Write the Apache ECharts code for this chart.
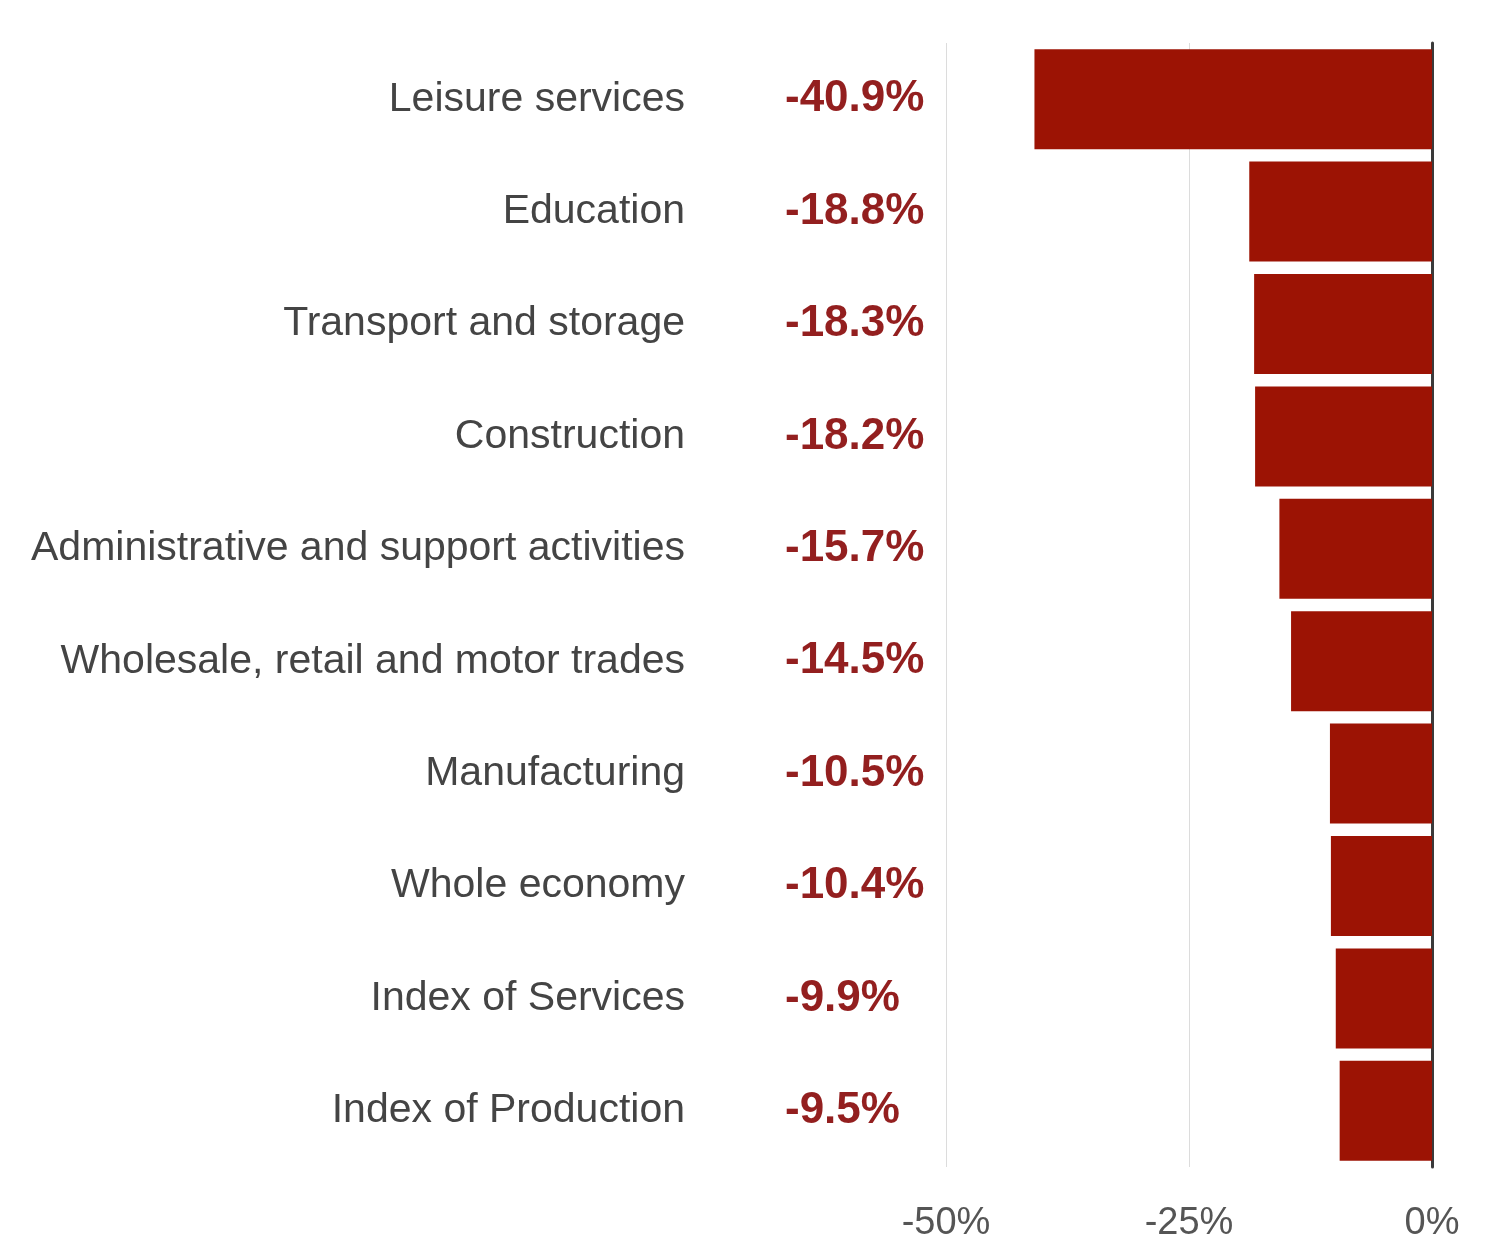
<!DOCTYPE html>
<html>
<head>
<meta charset="utf-8">
<script src="https://cdn.jsdelivr.net/npm/echarts@6/dist/echarts.min.js"></script>
<style>
  html, body { margin: 0; padding: 0; background: #ffffff; }
  #chart { width: 1487px; height: 1253px; }
</style>
</head>
<body>
<div id="chart"></div>
<script>
// Monthly change in output by industry, largest falls first
const industries = [
  'Leisure services',
  'Education',
  'Transport and storage',
  'Construction',
  'Administrative and support activities',
  'Wholesale, retail and motor trades',
  'Manufacturing',
  'Whole economy',
  'Index of Services',
  'Index of Production'
];
const changePct = [-40.9, -18.8, -18.3, -18.2, -15.7, -14.5, -10.5, -10.4, -9.9, -9.5];
const tickValues = [-50, -25, 0];

const barColor = '#9c1304';
const labelFont = '"Liberation Sans", Arial, sans-serif';

const chart = echarts.init(document.getElementById('chart'), null, { renderer: 'canvas' });

chart.setOption({
  backgroundColor: '#ffffff',
  animation: false,
  grid: { left: 946, right: 55, top: 43, bottom: 86, containLabel: false },
  xAxis: {
    type: 'value',
    min: tickValues[0],
    max: tickValues[tickValues.length - 1],
    interval: tickValues[1] - tickValues[0],
    axisLine: { show: false },
    axisTick: { show: false },
    splitLine: { show: true, lineStyle: { color: '#dcdcdc', width: 1 } },
    axisLabel: {
      margin: 38,
      color: '#555555',
      fontSize: 38,
      fontFamily: labelFont,
      formatter: v => v + '%'
    }
  },
  yAxis: [
    {
      // zero line on the right edge
      type: 'category',
      data: industries,
      inverse: true,
      position: 'right',
      axisLine: { show: true, lineStyle: { color: '#3a3a3a', width: 3 } },
      axisTick: { show: false },
      axisLabel: { show: false },
      splitLine: { show: false }
    },
    {
      // industry names
      type: 'category',
      data: industries,
      inverse: true,
      position: 'left',
      axisLine: { show: false },
      axisTick: { show: false },
      axisLabel: {
        margin: 261,
        color: '#444444',
        fontSize: 41,
        fontFamily: labelFont,
        padding: [6, 0, 0, 0]
      }
    },
    {
      // value column
      type: 'category',
      data: industries,
      inverse: true,
      position: 'left',
      axisLine: { show: false },
      axisTick: { show: false },
      axisLabel: {
        margin: 161,
        align: 'left',
        color: '#931f1f',
        fontSize: 44,
        fontWeight: 'bold',
        fontFamily: labelFont,
        padding: [6, 0, 0, 0],
        formatter: (name, idx) => changePct[idx].toFixed(1) + '%'
      }
    }
  ],
  series: [
    {
      type: 'bar',
      data: changePct,
      yAxisIndex: 0,
      barCategoryGap: '11%',
      itemStyle: { color: barColor },
      emphasis: { disabled: true }
    }
  ]
});
</script>
</body>
</html>
